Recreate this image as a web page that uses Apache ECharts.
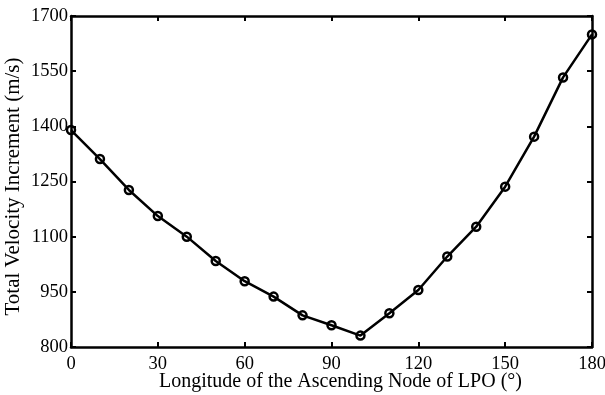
<!DOCTYPE html>
<html><head><meta charset="utf-8">
<script src="https://cdn.jsdelivr.net/npm/echarts@6/dist/echarts.min.js"></script>
<style>html,body{margin:0;padding:0;background:#fff}#c{width:605px;height:395px}</style>
</head><body><div id="c"></div>
<script>
var longitudes = [0,10,20,30,40,50,60,70,80,90,100,110,120,130,140,150,160,170,180];
var deltaV = [1390,1311,1227,1156,1100,1034,979,937,886,859,831,892,955,1046,1127,1236,1372,1533,1650];
var xTicks = [0,30,60,90,120,150,180];
var yTicks = [800,950,1100,1250,1400,1550,1700];

var font = 'Liberation Serif';
var chart = echarts.init(document.getElementById('c'));
var axisLine = {show:true, onZero:false, lineStyle:{color:'#000', width:2.5}};
var tick = {show:true, inside:true, length:5, lineStyle:{color:'#000', width:2}};
chart.setOption({
  animation:false,
  grid:{left:71, right:13, top:16, bottom:48, containLabel:false, outerBoundsMode:'none'},
  xAxis:[{
    type:'value', min:xTicks[0], max:xTicks[xTicks.length-1], interval:30,
    name:'Longitude of the Ascending Node of LPO (°)', nameLocation:'middle', nameGap:25, nameMoveOverlap:false,
    nameTextStyle:{fontFamily:font, fontSize:20, color:'#000', padding:[0,0,0,18]},
    axisLine:axisLine, axisTick:tick, splitLine:{show:false},
    axisLabel:{fontFamily:font, fontSize:18.5, color:'#000', margin:8, formatter:function(v){return String(v);}}
  },{
    type:'value', position:'top', min:xTicks[0], max:xTicks[xTicks.length-1], interval:30,
    axisLine:axisLine, axisTick:tick, splitLine:{show:false}, axisLabel:{show:false}
  }],
  yAxis:[{
    type:'value', min:yTicks[0], max:yTicks[yTicks.length-1], interval:150,
    name:'Total Velocity Increment (m/s)', nameLocation:'middle', nameGap:47, nameMoveOverlap:false,
    nameTextStyle:{fontFamily:font, fontSize:21, color:'#000', padding:[0,10,0,0]},
    axisLine:axisLine, axisTick:tick, splitLine:{show:false},
    axisLabel:{fontFamily:font, fontSize:18.5, color:'#000', margin:3, formatter:function(v){return String(v);}}
  },{
    type:'value', position:'right', min:yTicks[0], max:yTicks[yTicks.length-1], interval:150,
    axisLine:axisLine, axisTick:tick, splitLine:{show:false}, axisLabel:{show:false}
  }],
  series:[{
    type:'line',
    data:longitudes.map(function(x,i){return [x, deltaV[i]];}),
    symbol:'circle', symbolSize:8, showAllSymbol:true,
    lineStyle:{color:'#000', width:2.5},
    itemStyle:{color:'rgba(0,0,0,0)', borderColor:'#000', borderWidth:2.5},
    clip:false
  }]
});
</script></body></html>
